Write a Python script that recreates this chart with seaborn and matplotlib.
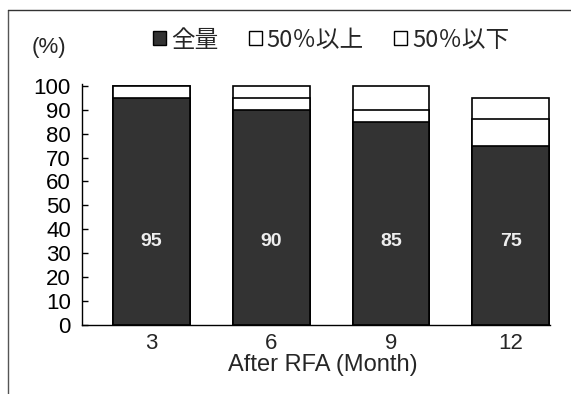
import matplotlib
matplotlib.use("Agg")
import matplotlib.pyplot as plt
from matplotlib.patches import Patch
from matplotlib.lines import Line2D
import numpy as np
import pandas as pd
import seaborn as sns

months = ["3", "6", "9", "12"]
full = [95, 90, 85, 75]          # 全量
over50 = [5, 5, 5, 11]           # 50%以上
under50 = [0, 5, 10, 9]          # 50%以下
legend_labels = ["全量", "50％以上", "50％以下"]

sns.set_theme(style="white")
plt.rcParams["font.family"] = ["Liberation Sans", "Noto Sans CJK JP", "DejaVu Sans"]

df = pd.DataFrame({"month": months, "full": full, "over50": over50, "under50": under50})
df["lvl2"] = df["full"] + df["over50"]
df["lvl3"] = df["lvl2"] + df["under50"]

fig = plt.figure(figsize=(5.71, 3.94), dpi=100)
ax = fig.add_axes([0.1436, 0.175, 0.82, 0.611])

dark = "#333333"
bar_kw = dict(width=0.64, edgecolor="black", linewidth=1.2, saturation=1)
sns.barplot(data=df, x="month", y="lvl3", color="white", ax=ax, **bar_kw)
sns.barplot(data=df, x="month", y="lvl2", color="white", ax=ax, **bar_kw)
sns.barplot(data=df, x="month", y="full", color=dark, ax=ax, **bar_kw)

for i, v in enumerate(full):
    ax.text(i, 35, str(v), ha="center", va="center", color="#eeeeee",
            fontsize=14, fontweight="bold")

ax.set_xlim(-0.58, 3.33)
ax.set_ylim(0, 100.6)
ax.set_yticks(range(0, 101, 10))
ax.tick_params(axis="y", direction="in", length=4, width=1, colors="black",
               labelsize=16, pad=8, left=True)
ax.tick_params(axis="x", length=0, labelsize=16, pad=6)
ax.set_xticks(range(len(months)))
ax.set_xticklabels(months)
ax.set_xlabel("After RFA (Month)", fontsize=17)
ax.xaxis.set_label_coords(0.515, -0.12)
ax.set_ylabel("")
for s in ["top", "right"]:
    ax.spines[s].set_visible(False)
for s in ["left", "bottom"]:
    ax.spines[s].set_color("black")
    ax.spines[s].set_linewidth(1.0)

fig.text(0.085, 0.88, "(%)", fontsize=16, ha="center", va="center")

handles = [
    Patch(facecolor=dark, edgecolor="black", linewidth=1),
    Patch(facecolor="white", edgecolor="black", linewidth=1),
    Patch(facecolor="white", edgecolor="black", linewidth=1),
]
leg = fig.legend(handles, legend_labels, loc="center", bbox_to_anchor=(0.58, 0.898),
                 ncol=3, frameon=False, handlelength=0.55,
                 handleheight=0.55, handletextpad=0.2, columnspacing=1.3,
                 prop={"family": ["Noto Sans CJK JP"], "size": 17})

# outer frame (top and left edges)
fig.add_artist(Line2D([0.014, 0.014], [0.0, 0.975], transform=fig.transFigure,
                      color="#555555", linewidth=1))
fig.add_artist(Line2D([0.014, 1.0], [0.975, 0.975], transform=fig.transFigure,
                      color="#333333", linewidth=1))

fig.savefig("out.png", dpi=100)
